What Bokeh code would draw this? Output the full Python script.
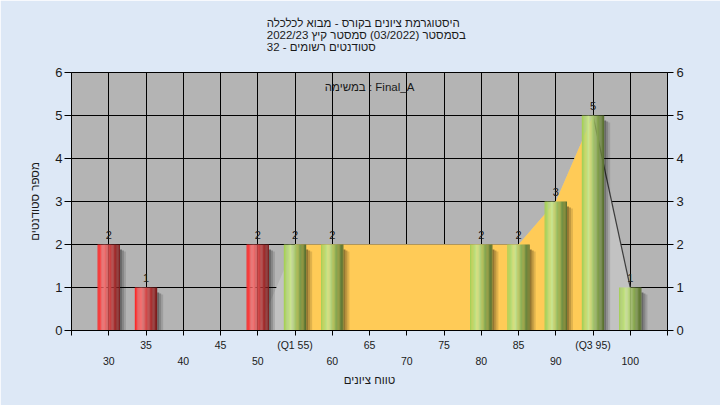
from bokeh.plotting import figure
from bokeh.models import Range1d, LinearAxis, FixedTicker, Label, ColumnDataSource, Title
from bokeh.embed import file_html
from bokeh.resources import INLINE
from bokeh.core.properties import value

# ---------------- data ----------------
grades = [30, 35, 50, 55, 60, 80, 85, 90, 95, 100]
counts = [2, 1, 2, 2, 2, 2, 2, 3, 5, 1]
passing = [False, False, False, True, True, True, True, True, True, True]

# outer distribution outline (light grey) and inter-quartile band (orange)
outer_x = [50, 55, 60, 80, 85, 90, 95, 100]
outer_y = [0, 2, 2, 2, 2, 3, 5, 1]
iqr_x = [55, 60, 80, 85, 90, 95]
iqr_y = [2, 2, 2, 2, 3, 5]
tail_x = [95, 100]
tail_y = [5, 1]

row1_ticks = [35, 45, 55, 65, 75, 85, 95]
row1_labels = ["35", "45", "(Q1 55)", "65", "75", "85", "(Q3 95)"]
row2_ticks = [30, 40, 50, 60, 70, 80, 90, 100]
y_ticks = [0, 1, 2, 3, 4, 5, 6]

title_lines = [
    "היסטוגרמת ציונים בקורס - מבוא לכלכלה",
    "בסמסטר  (03/2022)  סמסטר קיץ 2022/23",
    "סטודנטים רשומים - 32",
]
task_text = "במשימה : Final_A"
x_title = "טווח ציונים"
y_title = "מספר סטודנטים"

FONT = "Liberation Sans"
BAR_W = 3.0

# ---------------- figure ----------------
X0, X1, Y0, Y1 = 25, 105, 0, 6
FRAME_W, FRAME_H = 596, 258
p = figure(width=720, height=405, x_range=Range1d(X0, X1), y_range=Range1d(Y0, Y1),
           output_backend="svg", toolbar_location=None,
           min_border_left=71, min_border_right=53, min_border_top=72, min_border_bottom=75,
           background_fill_color="#b4b4b4", border_fill_color="#dde8f6",
           outline_line_color="black", outline_line_width=1)

# grid
p.xgrid.ticker = FixedTicker(ticks=row2_ticks + row1_ticks)
p.ygrid.ticker = FixedTicker(ticks=y_ticks[1:-1])
for g in (p.xgrid, p.ygrid):
    g.grid_line_color = "black"
    g.grid_line_width = 1
    g.grid_line_alpha = 1

# areas
p.varea(x=outer_x, y1=[0] * len(outer_x), y2=outer_y, fill_color="#c2c2c2")
p.varea(x=iqr_x, y1=[0] * len(iqr_x), y2=iqr_y, fill_color="#ffcb57")
p.line(x=tail_x, y=tail_y, line_color="#3c3c3c", line_width=1.2)

# shadows
px_x = (X1 - X0) / FRAME_W
px_y = (Y1 - Y0) / FRAME_H
sh = dict(l=[], r=[], t=[], a=[])
for g, c in zip(grades, counts):
    right = g + BAR_W / 2
    for k, a in enumerate([0.42, 0.26, 0.12]):
        sh["l"].append(right + k * 2 * px_x)
        sh["r"].append(right + (k + 1) * 2 * px_x)
        sh["t"].append(c - (5 + k) * px_y)
        sh["a"].append(a)
p.quad(left="l", right="r", top="t", bottom=0, source=ColumnDataSource(sh),
       fill_color="black", fill_alpha="a", line_color=None)


# cylinder-like gradient bars
def interp(stops, t):
    for (t0, c0), (t1, c1) in zip(stops[:-1], stops[1:]):
        if t0 <= t <= t1:
            f = (t - t0) / (t1 - t0)
            return "#%02x%02x%02x" % tuple(int(round(a + (b - a) * f)) for a, b in zip(c0, c1))
    return "#%02x%02x%02x" % stops[-1][1]


red_stops = [(0, (250, 35, 35)), (0.28, (242, 118, 118)), (0.55, (205, 68, 68)), (1, (120, 26, 26))]
green_stops = [(0, (163, 206, 82)), (0.33, (204, 230, 146)), (0.6, (150, 182, 90)), (1, (86, 108, 46))]
N = 18
strip = dict(x=[], top=[], color=[])
for g, c, ok in zip(grades, counts, passing):
    stops = green_stops if ok else red_stops
    for i in range(N):
        t = (i + 0.5) / N
        strip["x"].append(g - BAR_W / 2 + t * BAR_W)
        strip["top"].append(c)
        strip["color"].append(interp(stops, t))
p.vbar(x="x", top="top", bottom=0, width=BAR_W / N * 1.05, source=ColumnDataSource(strip),
       fill_color="color", line_color=None)

# count labels
p.text(x=grades, y=counts, text=[str(c) for c in counts], y_offset=-10,
       text_align="center", text_baseline="middle", text_font=value(FONT),
       text_font_size="11px", text_color="#1a1a1a")

# ---------------- axes ----------------
xa = p.xaxis[0]
xa.ticker = FixedTicker(ticks=list(range(25, 106, 5)))
ov = {t: "" for t in range(25, 106, 5)}
ov.update({t: l for t, l in zip(row1_ticks, row1_labels)})
xa.major_label_overrides = ov
xa.major_tick_out = 5
xa.major_tick_in = 0
xa.minor_tick_line_color = None
xa.major_label_standoff = 3
xa.axis_line_color = "black"
xa.major_tick_line_color = "black"
xa.major_label_text_font = FONT
xa.major_label_text_font_size = "10.5px"
xa.major_label_text_color = "#1a1a1a"

xa2 = LinearAxis(ticker=FixedTicker(ticks=row2_ticks), axis_label=x_title,
                 major_tick_out=0, major_tick_in=0, axis_line_color=None,
                 minor_tick_line_color=None, major_label_standoff=3,
                 major_label_text_font=FONT, major_label_text_font_size="10.5px",
                 major_label_text_color="#1a1a1a", axis_label_standoff=6,
                 axis_label_text_font=FONT, axis_label_text_font_size="11.5px",
                 axis_label_text_font_style="normal", axis_label_text_color="#1a1a1a")
p.add_layout(xa2, "below")

ya = p.yaxis[0]
ya.ticker = FixedTicker(ticks=y_ticks)
ya.axis_label = y_title
ya.major_tick_out = 7
ya.major_tick_in = 0
ya.minor_tick_line_color = None
ya.major_label_standoff = 2
ya.major_label_text_font = FONT
ya.major_label_text_font_size = "13px"
ya.major_label_text_color = "#1a1a1a"
ya.axis_label_text_font = FONT
ya.axis_label_text_font_size = "11.5px"
ya.axis_label_text_font_style = "normal"
ya.axis_label_text_color = "#1a1a1a"
ya.axis_label_standoff = 11

yr = LinearAxis(ticker=FixedTicker(ticks=y_ticks), major_tick_out=6, major_tick_in=0,
                minor_tick_line_color=None, major_label_standoff=3,
                major_label_text_font=FONT, major_label_text_font_size="13px",
                major_label_text_color="#1a1a1a")
p.add_layout(yr, "right")

# ---------------- title (one multi-line block, blank last line lifts it) ----------------
p.add_layout(Title(text="\n".join(title_lines + [" "]), align="center", offset=-9, standoff=13,
                   vertical_align="top", text_line_height=0.98,
                   text_font=FONT, text_font_size="11.5px", text_font_style="normal",
                   text_color="#1a1a1a"), "above")

p.add_layout(Label(x=(X0 + X1) / 2, y=Y1 - 14 * px_y, text=task_text, text_align="center",
                   text_baseline="middle", text_font=FONT, text_font_size="11.5px",
                   text_color="#1a1a1a"))

open("out.html", "w").write(file_html(p, INLINE))
